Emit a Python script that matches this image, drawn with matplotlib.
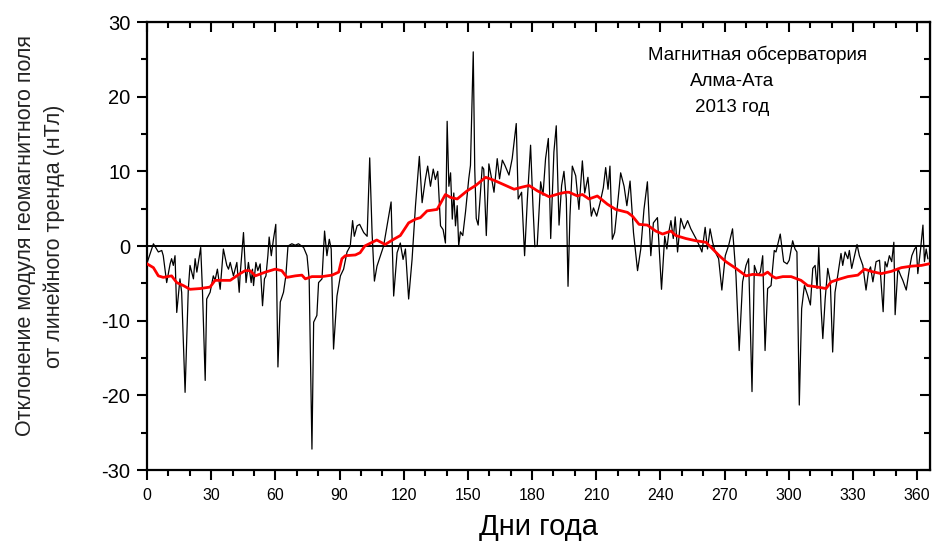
import matplotlib
matplotlib.use("Agg")
import matplotlib.pyplot as plt
from matplotlib.ticker import MultipleLocator

plt.rcParams['font.family'] = ['Liberation Sans', 'DejaVu Sans']
plt.rcParams['axes.unicode_minus'] = False

# daily deviation (black line): day of year and value, nT
days = [0.1, 3.0, 5.3, 6.9, 7.6, 9.2, 10.8, 11.5, 12.3, 13.1, 13.9, 15.4, 16.2, 17.8, 19.3,
        20.1, 21.7, 22.5, 23.3, 24.0, 25.1, 25.9, 27.2, 27.9, 29.5, 31.0, 31.8, 32.9, 34.2,
        35.7, 37.3, 38.1, 38.9, 40.4, 42.0, 43.1, 43.5, 45.1, 46.3, 47.4, 48.7, 49.3, 49.8,
        50.9, 51.8, 52.9, 54.0, 54.9, 55.6, 56.5, 57.1, 58.1, 59.1, 60.2, 61.2, 62.3, 63.8,
        64.9, 65.9, 67.7, 69.3, 70.8, 73.2, 74.8, 75.8, 77.1, 77.9, 79.4, 80.2, 81.8, 83.0,
        84.1, 85.2, 86.1, 87.2, 88.8, 90.4, 91.9, 93.5, 95.0, 96.1, 96.9, 98.2, 99.4, 101.3,
        102.9, 104.1, 105.2, 106.3, 107.5, 109.1, 110.6, 112.2, 114.1, 115.3, 116.9, 118.4,
        119.7, 120.8, 122.3, 123.9, 125.5, 127.3, 128.6, 130.1, 131.2, 132.5, 133.8, 134.8,
        135.9, 137.2, 138.4, 139.5, 140.3, 141.1, 141.9, 142.7, 143.4, 144.2, 145.0, 145.7,
        146.5, 147.6, 148.9, 150.4, 151.2, 152.5, 153.2, 153.9, 154.8, 155.9, 156.7, 157.4,
        158.6, 159.8, 161.1, 162.2, 163.7, 164.8, 166.1, 167.3, 169.2, 170.7, 172.6, 173.5,
        175.1, 176.5, 177.8, 179.3, 180.4, 181.3, 182.4, 184.0, 185.1, 186.3, 187.6, 188.7,
        190.2, 191.3, 192.6, 193.8, 194.9, 196.0, 196.8, 197.7, 198.8, 200.4, 201.9, 203.5,
        204.6, 206.1, 207.7, 208.7, 210.2, 211.8, 213.3, 214.4, 215.5, 216.4, 217.5, 218.6,
        219.9, 221.4, 223.0, 224.3, 225.8, 227.4, 229.3, 230.8, 232.3, 233.9, 235.5, 236.7,
        238.6, 240.5, 242.0, 243.0, 244.0, 244.9, 246.0, 246.9, 248.0, 249.5, 251.1, 252.7,
        254.2, 256.6, 258.1, 259.4, 260.9, 262.0, 263.2, 264.4, 265.6, 267.2, 268.7, 270.3,
        271.9, 273.7, 275.3, 276.8, 278.4, 280.0, 281.2, 282.8, 283.9, 285.4, 286.7, 287.8,
        288.9, 290.1, 291.7, 293.2, 294.0, 296.0, 297.6, 299.2, 300.2, 301.8, 302.9, 303.8,
        304.9, 306.0, 307.3, 308.8, 310.1, 311.2, 312.3, 313.2, 314.0, 315.1, 315.9, 317.0,
        318.2, 319.4, 320.5, 321.6, 322.9, 324.4, 325.2, 326.3, 327.6, 328.3, 329.4, 330.7,
        331.9, 333.0, 334.6, 336.1, 337.2, 338.2, 339.3, 340.8, 342.4, 344.1, 345.0, 345.9,
        347.0, 348.1, 349.1, 349.7, 351.0, 352.2, 353.3, 354.9, 356.4, 357.5, 358.8, 359.6,
        360.3, 361.6, 362.7, 363.4, 364.2, 365.0]
dev = [-2.2, 0.3, -0.8, -0.6, -1.3, -4.9, -2.4, -1.7, -2.6, -1.3, -8.9, -4.4, -6.2, -19.6, -5.8,
       -2.6, -4.4, -1.7, -3.5, -2.2, -0.2, -5.8, -18.0, -7.1, -6.2, -4.0, -4.6, -3.1, -5.8,
       -0.4, -2.6, -3.1, -2.2, -4.0, -2.2, -6.2, -4.0, 1.8, -4.9, -2.2, -4.9, -3.1, -5.3,
       -2.2, -3.3, -2.4, -8.0, -4.4, -4.0, -1.3, 1.2, -1.3, 0.9, 2.9, -16.2, -7.5, -6.2,
       -4.0, 0.0, 0.3, 0.1, 0.3, -0.2, -1.3, -4.4, -27.2, -10.2, -9.3, -4.9, -4.4, 2.0,
       -1.3, 0.9, -0.4, -13.8, -6.7, -4.0, -3.1, -0.8, 0.0, 3.4, 1.3, 2.7, 2.9, 1.8,
       1.3, 11.8, 1.8, -4.7, -2.7, -1.3, 0.0, 2.7, 5.9, -6.7, -0.9, 0.4,
       -1.8, -0.4, -7.1, -1.8, 5.4, 12.0, 5.8, 8.9, 10.7, 8.0, 10.3, 8.9,
       10.0, 2.7, 2.2, 0.4, 16.7, 8.0, 9.8, 3.6, 7.1, 2.7, 5.4, 0.0,
       1.9, 1.4, 4.6, 9.0, 10.8, 26.0, 10.3, 3.7, 2.8, 7.2, 10.6, 10.3,
       1.4, 11.0, 9.0, 7.2, 11.7, 9.0, 11.5, 10.8, 9.5, 11.7, 16.4, 6.3,
       7.2, -1.3, 6.3, 13.5, 5.4, -0.1, 0.1, 8.6, 6.8, 11.7, 14.4, 1.0,
       12.6, 16.1, 2.8, 8.1, 10.0, 6.3, -5.4, 4.0, 10.7, 9.4, 4.9, 11.4,
       7.1, 9.2, 4.0, 5.1, 4.0, 5.8, 7.8, 10.5, 7.6, 10.7, 0.9, 1.8,
       5.4, 9.8, 8.0, 5.4, 8.7, 1.8, -3.3, -0.4, 4.9, 8.6, -1.3, 3.1,
       3.8, -5.8, 1.3, -0.4, 2.0, 3.4, 1.0, 3.9, -0.8, 3.7, 2.3, 3.4,
       2.3, 1.0, 0.1, -0.8, 2.5, -0.4, 2.3, 0.5, -0.8, -1.7, -5.9, -1.3,
       0.1, 2.3, -3.9, -14.0, -4.8, -2.6, -1.7, -19.5, -2.6, -3.9, -3.5, -1.3,
       -14.0, -5.7, -5.3, -0.6, -0.8, 1.6, -2.1, -2.4, -1.9, 0.7, -0.4, -0.8,
       -21.3, -8.4, -5.3, -6.6, -7.9, -3.0, -2.6, -5.7, -0.2, -8.4, -12.4, -7.1,
       -3.0, -4.8, -14.2, -6.2, -3.9, -1.0, -2.6, -0.8, -1.7, -0.6, -3.0, -1.3,
       0.2, -1.3, -2.6, -5.9, -3.5, -2.8, -4.8, -2.1, -1.9, -8.8, -2.1, -2.8,
       -1.3, -2.1, 0.5, -9.2, -3.0, -3.9, -4.6, -5.9, -3.0, -1.3, -0.4, -0.1,
       -3.7, -0.4, 2.8, -2.1, -0.4, -1.7]

# smoothed curve (red line)
smooth_days = [0.1, 3.0, 5.3, 7.6, 11.5, 13.9, 17.0, 20.1, 24.8, 29.5, 31.8, 35.7, 38.9, 43.5,
               45.9, 48.2, 50.6, 55.3, 59.9, 63.0, 65.4, 69.3, 72.4, 74.0, 77.1, 81.8, 86.5,
               89.6, 91.1, 92.7, 97.4, 99.6, 101.8, 107.4, 111.3, 115.3, 118.4, 122.3, 125.5,
               127.8, 130.9, 135.6, 139.5, 141.9, 145.0, 149.7, 153.6, 158.3, 162.2, 167.7,
               171.6, 175.5, 178.6, 182.4, 187.9, 192.6, 195.7, 197.3, 201.2, 203.5, 206.6,
               210.5, 215.2, 219.1, 224.6, 226.9, 230.0, 233.9, 237.8, 241.0, 244.9, 247.2,
               251.9, 256.6, 261.3, 264.4, 267.5, 270.6, 275.3, 280.0, 283.1, 287.8, 290.1,
               292.5, 294.0, 297.2, 301.1, 305.7, 308.8, 313.5, 317.4, 319.8, 322.9, 327.6,
               332.3, 335.4, 338.5, 343.2, 347.9, 352.6, 357.3, 362.0, 365.3]
smooth = [-2.4, -2.9, -4.0, -4.2, -4.0, -4.9, -5.3, -5.8, -5.7, -5.5, -4.6, -4.6, -4.6, -3.7,
          -3.3, -3.3, -4.0, -3.5, -3.1, -3.3, -4.2, -4.0, -3.9, -4.4, -4.1, -4.1, -3.9,
          -3.5, -1.7, -1.3, -1.2, -0.9, 0.0, 0.8, 0.2, 0.9, 1.4, 3.1, 3.6,
          3.8, 4.7, 4.9, 6.9, 6.5, 6.3, 7.4, 8.1, 9.2, 8.8, 8.1,
          7.6, 7.9, 8.1, 7.4, 6.6, 7.0, 7.2, 7.2, 6.7, 6.9, 6.3,
          6.7, 5.6, 4.9, 4.5, 4.0, 2.9, 2.8, 2.0, 1.6, 2.0, 1.4,
          1.0, 0.7, 0.5, -0.4, -1.3, -2.1, -3.0, -4.0, -3.8, -3.9, -3.5,
          -4.1, -4.3, -4.1, -4.1, -4.6, -5.3, -5.5, -5.7, -4.8, -4.5, -4.1,
          -3.9, -3.1, -3.4, -3.7, -3.4, -2.9, -2.7, -2.6, -2.4]

x_ticks = list(range(0, 361, 30))
y_ticks = list(range(-30, 31, 10))

fig = plt.figure(figsize=(9.36, 5.42), dpi=100)
ax = fig.add_axes([147 / 936, 72 / 542, 783 / 936, 448 / 542])

ax.axhline(0, color='black', lw=1.4, zorder=1)
ax.plot(days, dev, color='black', lw=0.9, zorder=2)
ax.plot(smooth_days, smooth, color='#ff0000', lw=2.0, zorder=3)

ax.set_xlim(0, 366)
ax.set_ylim(-30, 30)
ax.set_xticks(x_ticks)
ax.set_yticks(y_ticks)
ax.xaxis.set_minor_locator(MultipleLocator(10))
ax.yaxis.set_minor_locator(MultipleLocator(5))
ax.tick_params(which='both', direction='out', width=1.5)
ax.tick_params(which='major', length=7)
ax.tick_params(which='minor', length=4)
ax.tick_params(axis='y', labelsize=14.5, pad=5)
ax.tick_params(axis='x', labelsize=11.5, pad=6)
for s in ax.spines.values():
    s.set_linewidth(1.6)

# mirrored ticks pointing inwards on top and right
top = ax.secondary_xaxis('top')
top.set_xticks(x_ticks)
top.xaxis.set_minor_locator(MultipleLocator(10))
top.tick_params(which='both', direction='in', width=1.5, labeltop=False)
top.tick_params(which='major', length=7)
top.tick_params(which='minor', length=4)
right = ax.secondary_yaxis('right')
right.set_yticks(y_ticks)
right.yaxis.set_minor_locator(MultipleLocator(5))
right.tick_params(which='both', direction='in', width=1.5, labelright=False)
right.tick_params(which='major', length=7)
right.tick_params(which='minor', length=4)

ax.set_xlabel('Дни года', fontsize=21, labelpad=7)
fig.text(40 / 936, 1 - 236 / 542,
         'Отклонение модуля геомагнитного поля\nот линейного тренда (нТл)',
         rotation=90, ha='center', va='center', multialignment='center',
         fontsize=15.5, color='#222222', linespacing=1.4)

fig.text(757 / 936, 1 - 55 / 542, 'Магнитная обсерватория', ha='center', va='center', fontsize=13.5)
fig.text(732 / 936, 1 - 82 / 542, 'Алма-Ата', ha='center', va='center', fontsize=13.5)
fig.text(732 / 936, 1 - 108 / 542, '2013 год', ha='center', va='center', fontsize=13.5)

fig.savefig('out.png', dpi=100)
